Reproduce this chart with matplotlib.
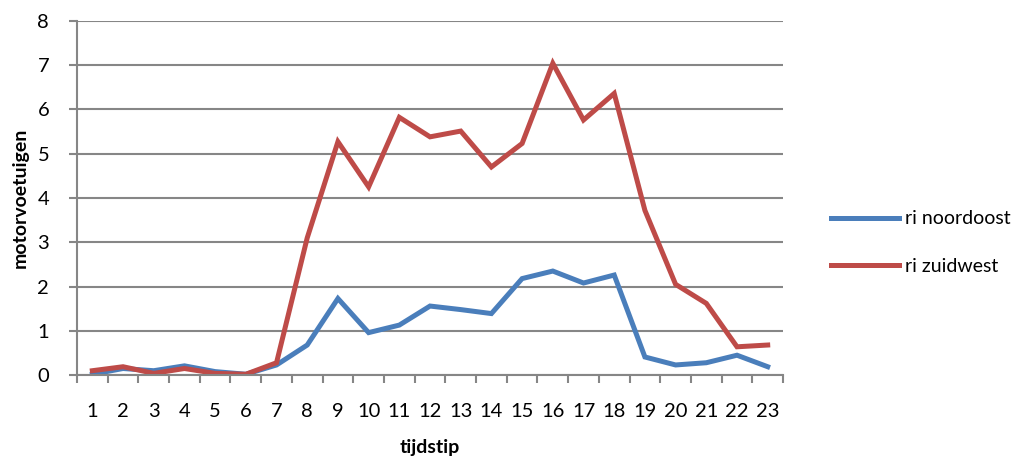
import matplotlib
matplotlib.use("Agg")
import matplotlib.pyplot as plt
import numpy as np

plt.rcParams['font.family'] = ['Lato', 'DejaVu Sans']

# hourly counts per direction
uren = list(range(1, 24))
noordoost = [0.02, 0.15, 0.10, 0.21, 0.08, 0.02, 0.23, 0.68, 1.73, 0.96, 1.13, 1.56,
             1.48, 1.39, 2.18, 2.35, 2.08, 2.26, 0.41, 0.23, 0.28, 0.45, 0.19]
zuidwest = [0.10, 0.19, 0.04, 0.15, 0.04, 0.02, 0.28, 3.10, 5.27, 4.25, 5.82, 5.38,
            5.51, 4.70, 5.23, 7.04, 5.76, 6.36, 3.72, 2.05, 1.62, 0.64, 0.68]

grijs = '#868686'

fig = plt.figure(figsize=(10.13, 4.62), dpi=100)
ax = fig.add_axes([0.076, 0.188, 0.697, 0.767])

ax.plot(uren, noordoost, color='#4A7EBB', lw=3.6, label='ri noordoost', solid_joinstyle='miter')
ax.plot(uren, zuidwest, color='#BE4B48', lw=3.6, label='ri zuidwest', solid_joinstyle='miter')

ax.set_xlim(0.5, 23.5)
ax.set_ylim(0, 8)
ax.set_yticks(range(0, 9))
ax.yaxis.grid(True, color=grijs, lw=1.5)
ax.set_axisbelow(True)

# tick marks between categories, labels centred on them
ax.set_xticks(np.arange(0.5, 24, 1))
ax.set_xticklabels([])
ax.set_xticks(uren, minor=True)
ax.set_xticklabels([str(u) for u in uren], minor=True)
ax.tick_params(axis='x', which='major', length=6, width=1.5, color=grijs, direction='out')
ax.tick_params(axis='x', which='minor', length=0, pad=20, labelsize=14.5)
ax.tick_params(axis='y', length=6, width=1.5, color=grijs, labelsize=14.5, pad=14)

for s in ['top', 'right']:
    ax.spines[s].set_visible(False)
for s in ['left', 'bottom']:
    ax.spines[s].set_color(grijs)
    ax.spines[s].set_linewidth(1.5)

ax.set_xlabel('tijdstip', fontsize=14, fontweight='bold', labelpad=14)
ax.set_ylabel('motorvoetuigen', fontsize=14, fontweight='bold', labelpad=6)

fig.legend(loc='center left', bbox_to_anchor=(0.803, 0.475), frameon=False,
           fontsize=14, handlelength=3.5, handletextpad=0.3, labelspacing=1.55)

fig.savefig('out.png', dpi=100)
